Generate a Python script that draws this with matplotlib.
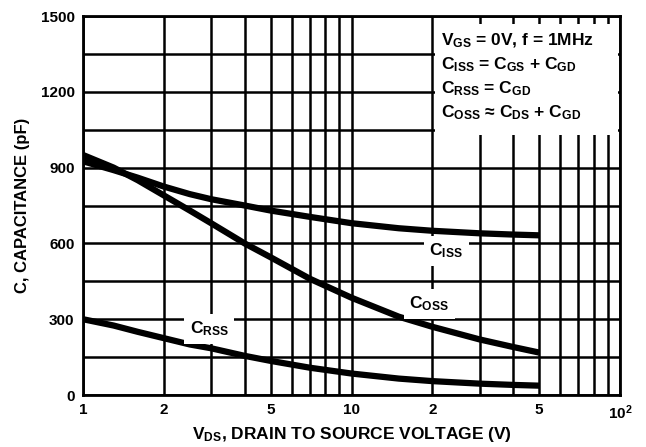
import matplotlib
matplotlib.use("Agg")
import matplotlib.pyplot as plt
from matplotlib.ticker import FixedLocator, FixedFormatter, NullFormatter

plt.rcParams['font.family'] = ['Liberation Sans', 'DejaVu Sans']
plt.rcParams['font.weight'] = 'bold'
plt.rcParams['mathtext.fontset'] = 'custom'
plt.rcParams['mathtext.rm'] = 'Liberation Sans:bold'
plt.rcParams['mathtext.it'] = 'Liberation Sans:bold'
plt.rcParams['mathtext.bf'] = 'Liberation Sans:bold'

# values
vds = [1, 1.3, 1.6, 2, 2.5, 3, 4, 5, 7, 10, 15, 20, 30, 40, 50]
ciss = [925, 890, 860, 825, 795, 775, 750, 730, 705, 680, 660, 650, 640, 635, 632]
coss = [950, 900, 850, 790, 730, 680, 600, 545, 460, 385, 310, 270, 220, 190, 168]
crss = [300, 275, 250, 225, 200, 185, 155, 135, 108, 85, 65, 55, 45, 40, 37]

x_ticks = [1, 2, 5, 10, 20, 50, 100]
x_tick_labels = ['1', '2', '5', '10', '2', '5', '$\\mathrm{10^2}$']
x_grid = [1, 2, 3, 4, 5, 6, 7, 8, 9, 10, 20, 30, 40, 50, 60, 70, 80, 90, 100]
y_ticks = [0, 300, 600, 900, 1200, 1500]
y_grid = [150, 450, 750, 1050, 1350]

fig = plt.figure(figsize=(6.46, 4.47), dpi=100)
ax = fig.add_axes([0.1285, 0.1163, 0.8313, 0.8479])
ax.set_xscale('log')
ax.set_xlim(1, 100)
ax.set_ylim(0, 1500)

# grid
for x in x_grid:
    ax.axvline(x, color='black', lw=1.8, zorder=1)
for y in y_ticks + y_grid:
    ax.axhline(y, color='black', lw=1.8, zorder=1)

# curves
for c in (ciss, coss, crss):
    ax.plot(vds, c, color='black', lw=4.5, solid_capstyle='butt', zorder=3)

# conditions box
ax.add_patch(plt.Rectangle((20.5, 1030), 100 - 20.5 - 1.5, 440,
                           facecolor='white', edgecolor='none', zorder=2))
ax.text(21.5, 1440,
        '$\\mathrm{V_{GS}}$ = 0V, f = 1MHz\n'
        '$\\mathrm{C_{ISS}}$ = $\\mathrm{C_{GS}}$ + $\\mathrm{C_{GD}}$\n'
        '$\\mathrm{C_{RSS}}$ = $\\mathrm{C_{GD}}$\n'
        '$\\mathrm{C_{OSS}}$ \u2248 $\\mathrm{C_{DS}}$ + $\\mathrm{C_{GD}}$',
        fontsize=12.5, va='top', ha='left', linespacing=1.38, zorder=4)

# curve labels
lab = dict(fontsize=12.5, ha='center', va='center', zorder=4,
           bbox=dict(facecolor='white', edgecolor='none', pad=4))
ax.text(22.5, 570, '$\\mathrm{C_{ISS}}$', **lab)
ax.text(19.5, 360, '$\\mathrm{C_{OSS}}$', **lab)
ax.text(2.95, 262, '$\\mathrm{C_{RSS}}$', **lab)

ax.xaxis.set_major_locator(FixedLocator(x_ticks))
ax.xaxis.set_major_formatter(FixedFormatter(x_tick_labels))
ax.xaxis.set_minor_formatter(NullFormatter())
ax.set_yticks(y_ticks)
ax.tick_params(which='both', length=0, labelsize=11, pad=6)
for lbl in ax.get_xticklabels() + ax.get_yticklabels():
    lbl.set_fontweight('bold')

for s in ax.spines.values():
    s.set_linewidth(2)
    s.set_zorder(5)

ax.set_xlabel('$\\mathrm{V_{DS}}$, DRAIN TO SOURCE VOLTAGE (V)', fontsize=12.5,
              fontweight='bold', labelpad=2)
ax.set_ylabel('C, CAPACITANCE (pF)', fontsize=12, fontweight='bold', labelpad=8)

fig.savefig('out.png', dpi=100)
